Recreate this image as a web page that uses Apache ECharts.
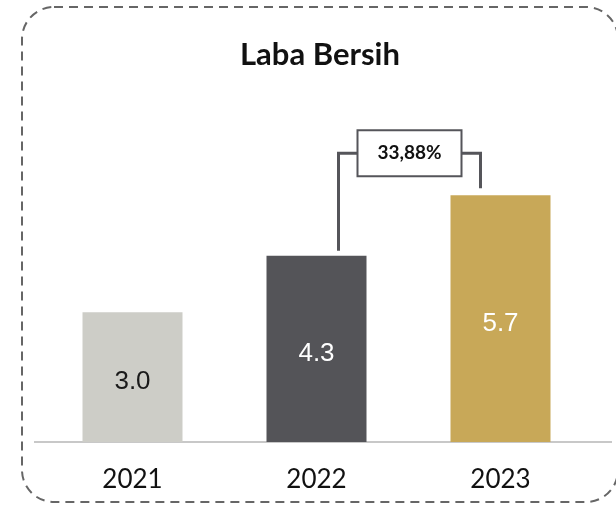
<!DOCTYPE html>
<html>
<head>
<meta charset="utf-8">
<script src="https://cdn.jsdelivr.net/npm/echarts@6/dist/echarts.min.js"></script>
<style>
  html, body { margin: 0; padding: 0; background: #fff; }
  #chart { width: 616px; height: 505px; }
</style>
</head>
<body>
<div id="chart"></div>
<script>
const years = ['2021', '2022', '2023'];
const labaBersih = [3.0, 4.3, 5.7];
const barColors = ['#cdcdc7', '#545458', '#c8a858'];
const labelColors = ['#1a1a1a', '#ffffff', '#ffffff'];
const growthLabel = '33,88%';

const chart = echarts.init(document.getElementById('chart'));

const option = {
  animation: false,
  title: {
    text: 'Laba Bersih',
    left: 235,
    top: 34,
    textStyle: { fontFamily: 'Lato', fontWeight: 'bold', fontSize: 31, color: '#111' }
  },
  graphic: [
    {
      type: 'rect',
      shape: { x: 22, y: 7, width: 596, height: 495, r: 32 },
      style: { fill: 'none', stroke: '#666', lineWidth: 2, lineDash: [9, 6] },
      z: 0
    },
    {
      type: 'line',
      shape: { x1: 34, y1: 442, x2: 612, y2: 442 },
      style: { stroke: '#c8c8c8', lineWidth: 2 },
      z: 1
    }
  ],
  grid: { left: 40.5, right: 23.5, top: 139, bottom: 63 },
  xAxis: {
    type: 'category',
    data: years,
    axisLine: { show: false },
    axisTick: { show: false },
    axisLabel: { fontFamily: 'Lato', fontSize: 26, color: '#111', margin: 25 }
  },
  yAxis: {
    type: 'value',
    min: 0,
    max: 7,
    show: false,
    splitLine: { show: false }
  },
  series: [
    {
      type: 'bar',
      barWidth: 100,
      data: labaBersih.map((v, i) => ({
        value: v,
        itemStyle: { color: barColors[i] },
        label: { color: labelColors[i] }
      })),
      label: {
        show: true,
        position: 'inside',
        offset: [0, 5],
        formatter: p => p.value.toFixed(1),
        fontFamily: 'Liberation Sans',
        fontSize: 26
      },
      z: 2
    },
    {
      type: 'custom',
      data: [[1, labaBersih[1], 2, labaBersih[2]]],
      renderItem: (params, api) => {
        const a = api.coord([api.value(0), api.value(1)]);
        const b = api.coord([api.value(2), api.value(3)]);
        const lx = a[0] + 22, rx = b[0] - 20;
        const ly = a[1] - 5, ry = b[1] - 7;
        const ty = Math.min(a[1], b[1]) - 42;
        const cx = (lx + rx) / 2;
        const bw = 104, bh = 46;
        const lineStyle = { stroke: '#55555a', lineWidth: 3, fill: 'none' };
        return {
          type: 'group',
          children: [
            { type: 'polyline', shape: { points: [[lx, ly], [lx, ty], [cx - bw / 2, ty]] }, style: lineStyle },
            { type: 'polyline', shape: { points: [[cx + bw / 2, ty], [rx, ty], [rx, ry]] }, style: lineStyle },
            {
              type: 'rect',
              shape: { x: cx - bw / 2, y: ty - bh / 2, width: bw, height: bh },
              style: { fill: '#fff', stroke: '#55555a', lineWidth: 2 }
            },
            {
              type: 'text',
              style: {
                x: cx, y: ty, text: growthLabel, align: 'center', verticalAlign: 'middle',
                fontFamily: 'Lato', fontWeight: 'bold', fontSize: 19, fill: '#111'
              }
            }
          ]
        };
      },
      z: 3
    }
  ]
};

chart.setOption(option);
</script>
</body>
</html>
